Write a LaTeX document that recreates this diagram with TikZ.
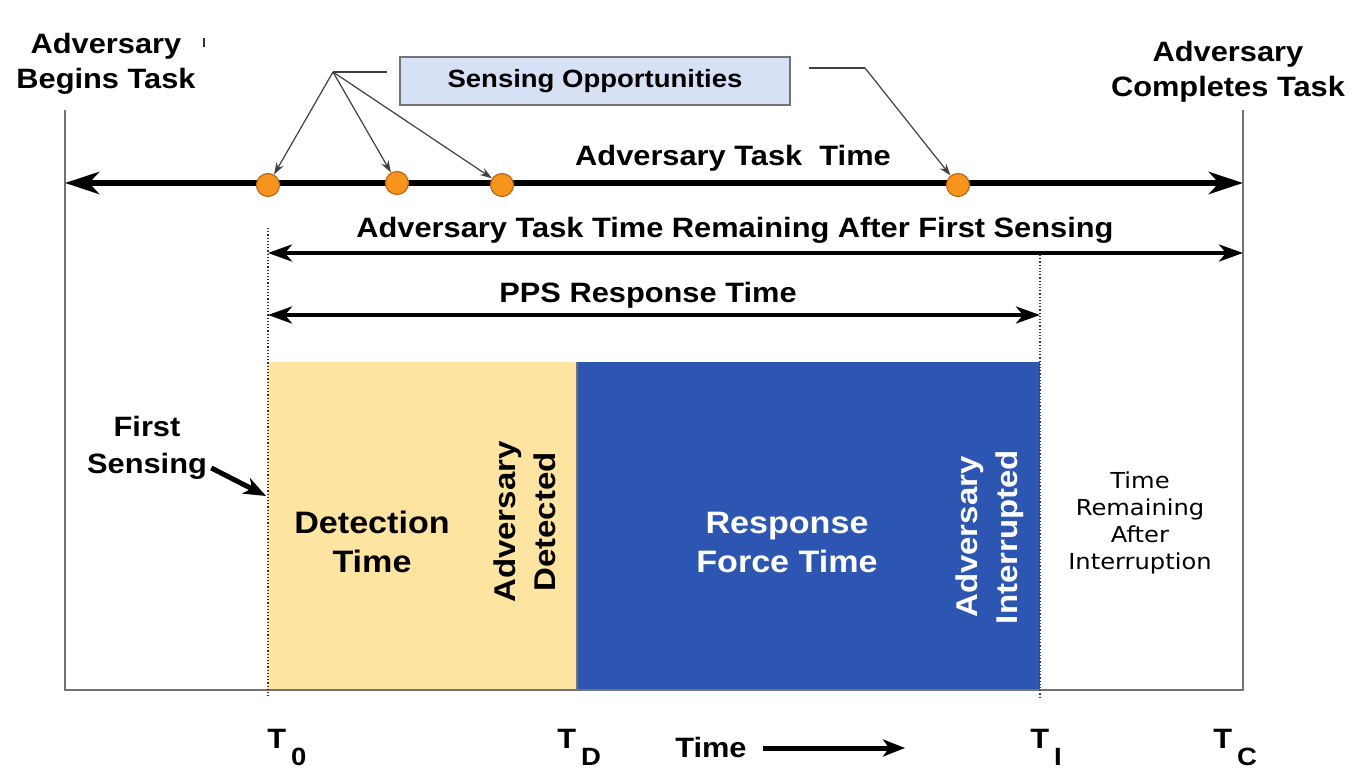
\documentclass[tikz,border=0pt]{standalone}
\usepackage{fontspec}
\setmainfont{Liberation Sans}[FakeStretch=1.1]
\newfontfamily\plainfont{DejaVu Sans}[FakeStretch=1.1]
\usepackage{tikz}
\usetikzlibrary{arrows.meta,positioning}
\definecolor{dotorange}{RGB}{247,148,29}
\definecolor{dotedge}{RGB}{190,105,25}
\definecolor{detfill}{RGB}{253,228,160}
\definecolor{resfill}{RGB}{44,86,178}
\definecolor{boxfill}{RGB}{214,225,246}
\definecolor{framegray}{RGB}{115,115,115}

\begin{document}
\begin{tikzpicture}[x=0.5pt,y=-0.5pt,
  lab/.style={font=\fontsize{14}{17.5}\selectfont\bfseries, align=center, inner sep=0pt},
  biglab/.style={font=\fontsize{15.5}{19.5}\selectfont\bfseries, align=center, inner sep=0pt},
  sidelab/.style={font=\fontsize{15}{20}\selectfont\bfseries, align=center, inner sep=0pt, rotate=90},
  plainlab/.style={font=\plainfont\fontsize{11}{13.5}\selectfont, align=center, inner sep=0pt},
  senselab/.style={font=\fontsize{12.5}{15}\selectfont\bfseries, fill=boxfill, draw=framegray,
    line width=0.8pt, minimum width=195pt, minimum height=24pt},
  sensedot/.style={circle, fill=dotorange, draw=dotedge, line width=0.6pt, minimum size=11.5pt, inner sep=0pt},
  frame/.style={draw=framegray, line width=0.8pt},
  marker/.style={densely dotted, line width=0.6pt, black!80},
  callout/.style={draw=black!75, line width=0.6pt},
  pointer/.style={callout, -{Stealth[length=6pt,width=4pt]}},
  bigspan/.style={line width=3pt, {Stealth[length=17pt,width=11pt,inset=5pt]}-{Stealth[length=17pt,width=11pt,inset=5pt]}},
  span/.style={line width=2pt, {Stealth[length=12pt,width=8.5pt,inset=3.5pt]}-{Stealth[length=12pt,width=8.5pt,inset=3.5pt]}},
  fatarrow/.style={line width=2.5pt, -{Stealth[length=11pt,width=8.5pt,inset=3pt]}},
  sub/.style={}
]
\useasboundingbox (0,0) rectangle (1355,769);

\fill[detfill] (268,362) rectangle (577,690);
\fill[resfill] (577,362) rectangle (1040,690);
\draw[black!55, line width=0.8pt] (577,362) -- (577,690);

\draw[frame] (65,110) -- (65,690) -- (1243,690) -- (1243,110);
\draw[black!80, line width=0.7pt] (204,38) -- (204,47);
\draw[marker] (268,228) -- (268,697);
\draw[marker] (1040,255) -- (1040,697);

\node[lab] (begin) at (106,64) {Adversary\\Begins Task};
\node[lab] (complete) at (1228,72) {Adversary\\Completes Task};

\coordinate (taskL) at (65,183);
\coordinate (taskR) at (1243,183);
\draw[bigspan] (taskL) -- (taskR);
\node[lab] (tasklab) at (733,158) {Adversary Task\ \ Time};

\node[sensedot] (d1) at (268,185) {};
\node[sensedot] (d2) at (397,183) {};
\node[sensedot] (d3) at (502,185) {};
\node[sensedot] (d4) at (958,185) {};

\node[senselab] (sense) at (595,81) {Sensing Opportunities};
\coordinate (lknee) at (333,72);
\coordinate (rknee) at (865,68);
\draw[callout] ([xshift=-6pt,yshift=4.5pt]sense.west) -- (lknee);
\draw[callout] ([xshift=9pt,yshift=6.5pt]sense.east) -- (rknee);
\draw[pointer] (lknee) -- (d1);
\draw[pointer] (lknee) -- (d2);
\draw[pointer] (lknee) -- (d3);
\draw[pointer] (rknee) -- (d4);

\coordinate (remL) at (268,253);
\coordinate (remR) at (1243,253);
\draw[span] (remL) -- (remR);
\node[lab] (remlab) at (735,230) {Adversary Task Time Remaining After First Sensing};

\coordinate (ppsL) at (268,315);
\coordinate (ppsR) at (1040,315);
\draw[span] (ppsL) -- (ppsR);
\node[lab] (ppslab) at (648,295) {PPS Response Time};

\node[biglab] (dettime) at (372,542) {Detection\\Time};
\node[sidelab] (detected) at (525,522) {Adversary\\Detected};
\node[biglab, text=white] (restime) at (787,542) {Response\\Force Time};
\node[sidelab, text=white] (interrupted) at (990,537) {Adversary\\Interrupted};
\node[plainlab] (remaining) at (1140,523) {Time\\Remaining\\After\\Interruption};

\node[lab, font=\fontsize{14}{18.5}\selectfont\bfseries] (first) at (147,448) {First\\Sensing};
\coordinate (firsttip) at (266,496);
\draw[fatarrow] ([xshift=2pt,yshift=-10pt]first.east) -- (firsttip);

\node[lab, anchor=base west] (t0) at (267,748) {T\hspace{2.5pt}\raisebox{-8.5pt}{\fontsize{12.5}{12.5}\selectfont 0}};
\node[lab, anchor=base west] (td) at (557,748) {T\hspace{2.5pt}\raisebox{-8.5pt}{\fontsize{12.5}{12.5}\selectfont D}};
\node[lab, anchor=base west] (ti) at (1030,748) {T\hspace{2.5pt}\raisebox{-8.5pt}{\fontsize{12.5}{12.5}\selectfont I}};
\node[lab, anchor=base west] (tc) at (1213,748) {T\hspace{2.5pt}\raisebox{-8.5pt}{\fontsize{12.5}{12.5}\selectfont C}};
\node[lab, anchor=base east] (timelab) at (747,757) {Time};
\coordinate (timeend) at (905,748);
\draw[fatarrow] ([xshift=8pt]timelab.east |- timeend) -- (timeend);
\end{tikzpicture}
\end{document}
